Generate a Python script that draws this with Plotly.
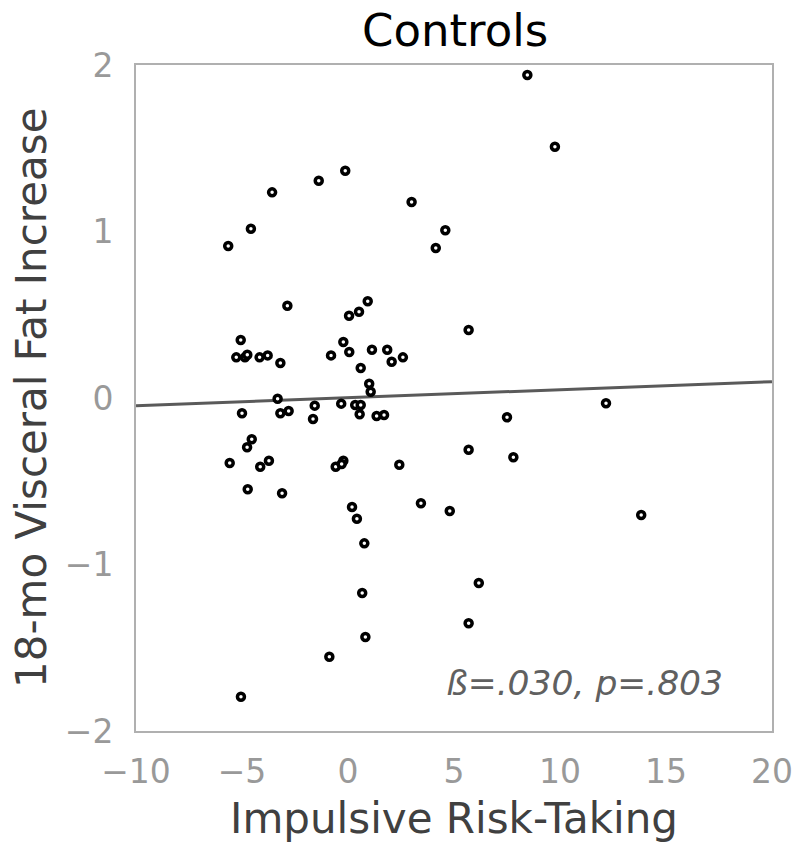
import plotly.graph_objects as go

# Data
risk_taking = [
    -0.13, -1.38, -3.58, 3.00, -4.58, 4.59, -5.65, 4.14, -2.86, 0.93,
    0.52, 0.05, -5.06, -0.22, -5.27, -4.86, -4.75, -4.17, -3.79, -3.19,
    -0.80, 0.06, 1.13, 1.85, 2.06, 2.59, 0.60, 1.00, 1.07, -3.32,
    -5.00, -3.19, -2.80, -1.57, -1.65, -0.32, 0.34, 0.60, 0.55, 1.35,
    1.70, -4.54, -4.76, -5.58, -4.14, -3.73, -0.58, -0.22, -0.30, 2.42,
    -4.73, -3.11, 3.44, 4.80, 0.19, 0.42, 0.77, 0.67, 0.82, -0.88,
    -5.05, 8.46, 9.76, 5.69, 12.17, 7.50, 5.69, 7.80, 13.83, 6.17,
    5.69,
]
fat_increase = [
    1.365, 1.305, 1.235, 1.177, 1.017, 1.007, 0.913, 0.901, 0.554, 0.581,
    0.518, 0.494, 0.348, 0.336, 0.244, 0.244, 0.260, 0.244, 0.256, 0.210,
    0.256, 0.276, 0.290, 0.290, 0.218, 0.244, 0.180, 0.086, 0.038, -0.004,
    -0.092, -0.092, -0.078, -0.046, -0.126, -0.034, -0.042, -0.042, -0.098, -0.108,
    -0.102, -0.248, -0.296, -0.390, -0.413, -0.377, -0.413, -0.377, -0.396, -0.401,
    -0.548, -0.572, -0.632, -0.679, -0.655, -0.725, -0.873, -1.171, -1.435, -1.554,
    -1.794, 1.940, 1.509, 0.408, -0.032, -0.116, -0.311, -0.356, -0.703, -1.111,
    -1.353,
]
fit_x = [-10, 20]
fit_y = [-0.046, 0.098]

x_ticks = [-10, -5, 0, 5, 10, 15, 20]
y_ticks = [-2, -1, 0, 1, 2]

title_text = "Controls"
x_label = "Impulsive Risk-Taking"
y_label = "18-mo Visceral Fat Increase"
stat_text = "ß=.030, p=.803"

# Layout constants (pixels); the page's body margin is removed via post_script
W, H = 800, 853
L, R, T, B = 136, 28, 65, 853 - 731
plot_w = W - L - R
plot_h = H - T - B


def px_to_paper_x(px):
    return (px - L) / plot_w


def py_to_paper_y(py):
    return (H - B - py) / plot_h


def fmt(v):
    return ("\u2212" + str(abs(v))) if v < 0 else str(v)


FONT = "DejaVu Sans"

fig = go.Figure()
fig.add_trace(go.Scatter(
    x=fit_x, y=fit_y, mode="lines",
    line=dict(color="#5a5a5a", width=3),
    hoverinfo="skip", showlegend=False,
))
fig.add_trace(go.Scatter(
    x=risk_taking, y=fat_increase, mode="markers",
    marker=dict(symbol="circle", size=7, color="white",
                line=dict(color="black", width=3.5)),
    showlegend=False,
))

axis_common = dict(
    showgrid=False, zeroline=False, showline=True, linecolor="#b0b0b0",
    linewidth=2, mirror=True, ticks="", automargin=False,
    tickfont=dict(family=FONT, size=33, color="#999999"),
)
fig.update_xaxes(range=[-10, 20], tickvals=x_ticks,
                 ticktext=[fmt(v) for v in x_ticks],
                 ticklabelstandoff=10, **axis_common)
fig.update_yaxes(range=[-2, 2], tickvals=y_ticks,
                 ticktext=[fmt(v) for v in y_ticks],
                 ticklabelstandoff=14, **axis_common)

fig.update_layout(
    width=W, height=H,
    margin=dict(l=L, r=R, t=T, b=B, autoexpand=False),
    plot_bgcolor="white", paper_bgcolor="white",
    font=dict(family=FONT),
    annotations=[
        dict(text=title_text, xref="paper", yref="paper",
             x=px_to_paper_x(455), y=py_to_paper_y(30),
             xanchor="center", yanchor="middle", showarrow=False,
             font=dict(family=FONT, size=45, color="black")),
        dict(text=x_label, xref="paper", yref="paper",
             x=px_to_paper_x(454), y=py_to_paper_y(818),
             xanchor="center", yanchor="middle", showarrow=False,
             font=dict(family=FONT, size=42, color="#404040")),
        dict(text=y_label, xref="paper", yref="paper",
             x=px_to_paper_x(31), y=py_to_paper_y(398),
             xanchor="center", yanchor="middle", showarrow=False,
             textangle=-90,
             font=dict(family=FONT, size=42, color="#404040")),
        dict(text="<i>" + stat_text + "</i>", xref="x", yref="y",
             x=17.8, y=-1.71, xanchor="right", yanchor="middle",
             showarrow=False,
             font=dict(family=FONT, size=34.5, color="#606060")),
    ],
)

fig.write_html("out.html", config={"displayModeBar": False},
               post_script="document.body.style.margin='0';")
